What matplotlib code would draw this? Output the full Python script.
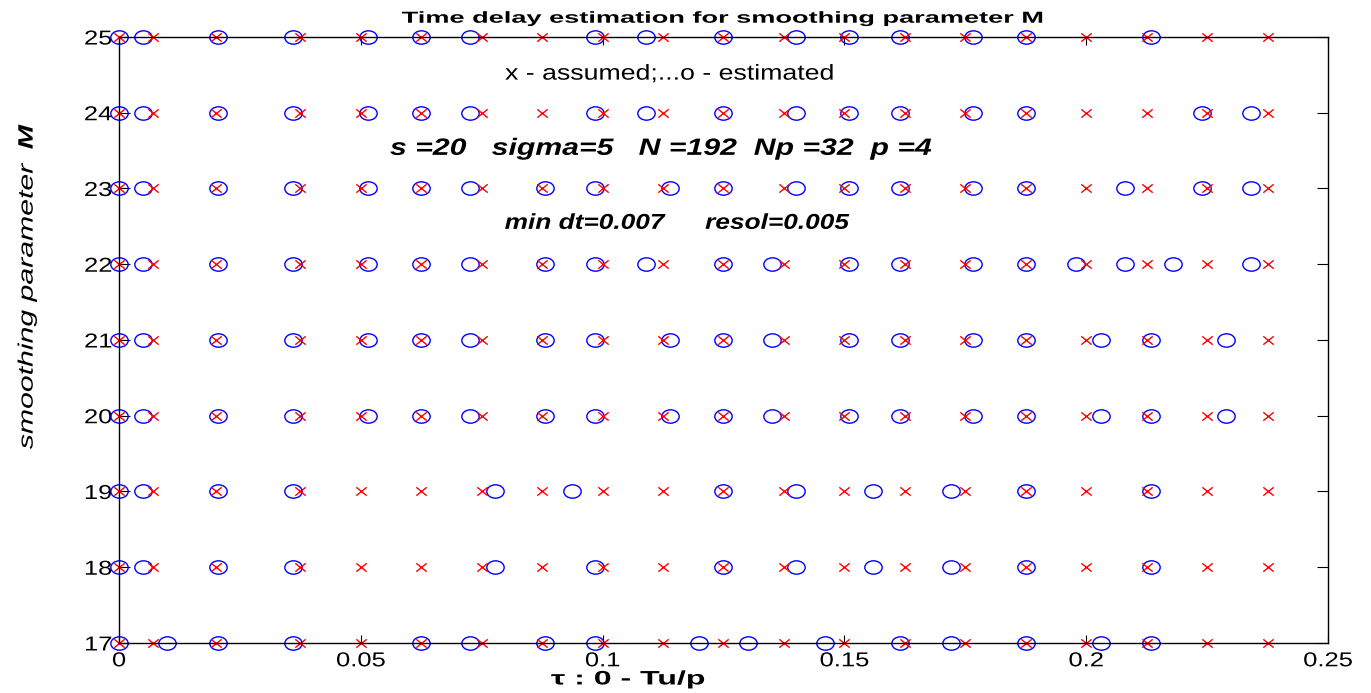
import matplotlib
matplotlib.use('Agg')
import matplotlib.pyplot as plt
from matplotlib import patheffects
from matplotlib.path import Path
from matplotlib.transforms import Affine2D

plt.rcParams['font.family'] = ['Liberation Sans', 'DejaVu Sans']

# smoothing parameter M (one row of markers per value)
M_values = [17, 18, 19, 20, 21, 22, 23, 24, 25]

# assumed delays (red x), same for every row
assumed = [0, 0.007, 0.02, 0.0375, 0.05, 0.0625, 0.075, 0.0875, 0.1, 0.1125,
           0.125, 0.1375, 0.15, 0.1625, 0.175, 0.1875, 0.2, 0.2125, 0.225, 0.2375]

# estimated delays (blue o), read off per row
est_17 = [0, 0.010, 0.0205, 0.036, 0.0625, 0.0725, 0.088, 0.0985, 0.120, 0.130,
          0.146, 0.1615, 0.172, 0.1875, 0.203, 0.2135]
est_18 = [0, 0.005, 0.0205, 0.036, 0.0778, 0.0985, 0.125, 0.140, 0.156, 0.172,
          0.1875, 0.2135]
est_19 = [0, 0.005, 0.0205, 0.036, 0.0778, 0.0937, 0.125, 0.140, 0.156, 0.172,
          0.1875, 0.2135]
est_20 = [0, 0.005, 0.0205, 0.036, 0.0515, 0.0625, 0.0725, 0.088, 0.0985, 0.114,
          0.125, 0.135, 0.151, 0.1615, 0.1765, 0.1875, 0.203, 0.2135, 0.229]
est_21 = [0, 0.005, 0.0205, 0.036, 0.0515, 0.0625, 0.0725, 0.088, 0.0985, 0.114,
          0.125, 0.135, 0.151, 0.1615, 0.1765, 0.1875, 0.203, 0.2135, 0.229]
est_22 = [0, 0.005, 0.0205, 0.036, 0.0515, 0.0625, 0.0725, 0.088, 0.0985, 0.109,
          0.125, 0.135, 0.151, 0.1615, 0.1765, 0.1875, 0.198, 0.208, 0.218, 0.234]
est_23 = [0, 0.005, 0.0205, 0.036, 0.0515, 0.0625, 0.0725, 0.088, 0.0985, 0.114,
          0.125, 0.140, 0.151, 0.1615, 0.1765, 0.1875, 0.208, 0.224, 0.234]
est_24 = [0, 0.005, 0.0205, 0.036, 0.0515, 0.0625, 0.0725, 0.0985, 0.109, 0.125,
          0.140, 0.151, 0.1615, 0.1765, 0.1875, 0.224, 0.234]
est_25 = [0, 0.005, 0.0205, 0.036, 0.0515, 0.0625, 0.0725, 0.0985, 0.109, 0.125,
          0.140, 0.151, 0.1615, 0.1765, 0.1875, 0.2135]
estimated = [est_17, est_18, est_19, est_20, est_21, est_22, est_23, est_24, est_25]

x_ticks = [0, 0.05, 0.1, 0.15, 0.2, 0.25]
x_ticklabels = ['0', '0.05', '0.1', '0.15', '0.2', '0.25']


class Stretch(patheffects.AbstractPathEffect):
    """draw text stretched around its centre (or right edge), like the old matlab export"""
    def __init__(self, sx=1.0, sy=1.0, anchor='center'):
        super().__init__()
        self.sx, self.sy, self.anchor = sx, sy, anchor

    def draw_path(self, renderer, gc, tpath, affine, rgbFace=None):
        ext = tpath.get_extents(affine)
        cx = (ext.x0 + ext.x1) / 2
        if self.anchor == 'right':
            cx = ext.x1
        cy = (ext.y0 + ext.y1) / 2
        aff = affine + Affine2D().translate(-cx, -cy).scale(self.sx, self.sy).translate(cx, cy)
        renderer.draw_path(gc, tpath, aff, rgbFace)


# markers are wider than tall in the original
ellipse = Path.unit_circle().transformed(Affine2D().scale(1.3, 1.0))
cross = Path([(-1.25, -1), (1.25, 1), (-1.25, 1), (1.25, -1)],
             [Path.MOVETO, Path.LINETO, Path.MOVETO, Path.LINETO])

fig = plt.figure(figsize=(13.71, 6.93), dpi=100)
ax = fig.add_axes([0.0868, 0.0722, 0.8818, 0.8744])

for m, est in zip(M_values, estimated):
    ax.plot(est, [m] * len(est), linestyle='none', marker=ellipse, markersize=12.5,
            markerfacecolor='none', markeredgecolor='blue', markeredgewidth=1.0,
            clip_on=False)
    ax.plot(assumed, [m] * len(assumed), linestyle='none', marker=cross, markersize=7.5,
            markerfacecolor='none', markeredgecolor='red', markeredgewidth=1.0,
            clip_on=False)

ax.set_xlim(0, 0.25)
ax.set_ylim(17, 25)
ax.set_xticks(x_ticks)
ax.set_xticklabels(x_ticklabels)
ax.set_yticks(M_values)

for s in ax.spines.values():
    s.set_color('black')
    s.set_linewidth(1.0)

ax.tick_params(direction='in', top=True, right=True, labelsize=14.5, width=0.8)
ax.tick_params(axis='x', length=6, pad=6)
ax.tick_params(axis='y', length=8, pad=5)
for lab in ax.get_xticklabels():
    lab.set_path_effects([Stretch(1.27, 1.0)])
for lab in ax.get_yticklabels():
    lab.set_path_effects([Stretch(1.27, 1.0, 'right')])

# title and labels
ax.text(0.5, 1.031, 'Time delay estimation for smoothing parameter M', transform=ax.transAxes,
        ha='center', va='center', fontsize=11.5, fontweight='bold',
        path_effects=[Stretch(1.70, 1.0)])
ax.text(0.421, -0.061, '\u03c4 : 0 - Tu/p', transform=ax.transAxes,
        ha='center', va='center', fontsize=14, fontweight='bold',
        path_effects=[Stretch(1.65, 1.0)])
ax.text(-0.076, 0.556, 'smoothing parameter', transform=ax.transAxes, rotation=90,
        ha='center', va='center', fontsize=15, fontstyle='italic',
        path_effects=[Stretch(1.0, 1.45)])
ax.text(-0.076, 0.835, 'M', transform=ax.transAxes, rotation=90,
        ha='center', va='center', fontsize=15, fontstyle='italic', fontweight='bold',
        path_effects=[Stretch(1.0, 1.4)])

# annotations inside the plot
ax.text(0.1138, 24.51, 'x - assumed;...o - estimated', ha='center', va='center',
        fontsize=15.5, path_effects=[Stretch(1.24, 1.0)])
ax.text(0.1121, 23.53, 's =20   sigma=5   N =192  Np =32  p =4', ha='center',
        va='center', fontsize=17, fontweight='bold', fontstyle='italic',
        path_effects=[Stretch(1.28, 1.0)])
ax.text(0.0963, 22.54, 'min dt=0.007', ha='center', va='center', fontsize=15.5,
        fontweight='bold', fontstyle='italic', path_effects=[Stretch(1.22, 1.0)])
ax.text(0.1361, 22.54, 'resol=0.005', ha='center', va='center', fontsize=15.5,
        fontweight='bold', fontstyle='italic', path_effects=[Stretch(1.22, 1.0)])

plt.savefig('out.png', dpi=100)
